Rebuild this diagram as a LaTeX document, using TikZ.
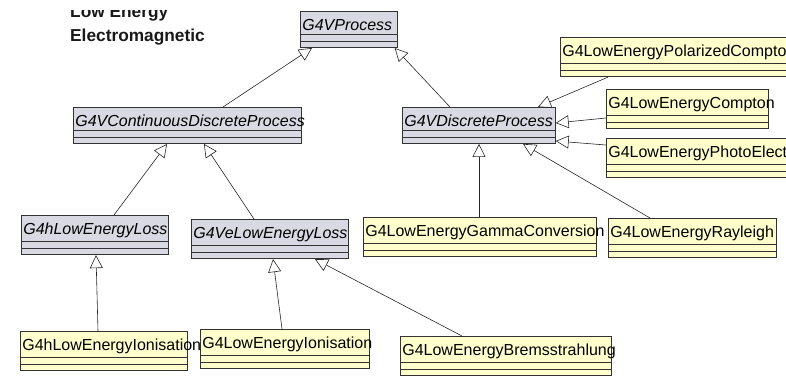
\documentclass[tikz,border=0pt]{standalone}
\usepackage{fontspec}
\setmainfont{Liberation Sans}
\newfontfamily\umlsans{Liberation Sans}[HyphenChar=None]
\usetikzlibrary{arrows.meta, shapes.multipart, calc}
\definecolor{abstrgrey}{HTML}{D9D9E3}
\definecolor{concryellow}{HTML}{FFFFCC}
\newcommand{\umlname}[1]{\rule{0pt}{16pt}#1\nodepart{second}\nodepart{third}}
\tikzset{
  cls/.style={rectangle split, rectangle split parts=3, draw=black!80, line width=0.7pt,
    anchor=north west, inner xsep=2pt, inner ysep=3pt, text width=#1, align=left,
    rectangle split empty part height=4pt, font=\umlsans\fontsize{16}{19}\selectfont},
  abstr/.style={cls=#1, fill=abstrgrey, font=\umlsans\fontsize{16}{19}\selectfont\itshape},
  concr/.style={cls=#1, fill=concryellow},
  inherit/.style={draw=black!85, line width=0.6pt, -{Triangle[open, length=13pt, width=13pt]}}
}
\begin{document}
\begin{tikzpicture}[x=1pt, y=-1pt]
\useasboundingbox (0,0) rectangle (786,376);
\clip (0,0) rectangle (786,376);
\begin{scope}
\clip (0,10) rectangle (290,60);
\node[anchor=north west, align=left, inner sep=0pt, text=black!90, font=\bfseries\fontsize{17.3}{24}\selectfont] (title) at (70,5.6) {Low Energy\\Electromagnetic};
\end{scope}
\node[abstr=93pt] (proc) at (300,11) {\umlname{G4VProcess}};
\node[abstr=224pt] (cdp) at (73,107) {\umlname{G4VContinuousDiscreteProcess}};
\node[abstr=149pt] (dp) at (402,107) {\umlname{G4VDiscreteProcess}};
\node[concr=235pt] (polc) at (560,37) {\umlname{G4LowEnergyPolarizedCompton}};
\node[concr=158pt] (compt) at (606,89) {\umlname{G4LowEnergyCompton}};
\node[concr=189pt] (photo) at (606,138) {\umlname{G4LowEnergyPhotoElectric}};
\node[abstr=143pt] (hloss) at (21,215) {\umlname{G4hLowEnergyLoss}};
\node[abstr=153pt] (veloss) at (191,219) {\umlname{G4VeLowEnergyLoss}};
\node[concr=229pt] (gamma) at (363,217) {\umlname{G4LowEnergyGammaConversion}};
\node[concr=164pt] (rayl) at (608,218) {\umlname{G4LowEnergyRayleigh}};
\node[concr=163pt] (hion) at (20,331) {\umlname{G4hLowEnergyIonisation}};
\node[concr=165pt] (ion) at (200,329) {\umlname{G4LowEnergyIonisation}};
\node[concr=207pt] (brems) at (400,336) {\umlname{G4LowEnergyBremsstrahlung}};
\draw[inherit] ($(cdp.north west)+(150,0)$) -- ($(proc.south west)+(12,0)$);
\draw[inherit] ($(dp.north west)+(48,0)$) -- ($(proc.south east)+(-3,0)$);
\draw[inherit] ($(polc.south west)+(48,0)$) -- ($(dp.north west)+(136,0)$);
\draw[inherit] ($(compt.north west)+(0,29)$) -- ($(dp.north east)+(0,16)$);
\draw[inherit] ($(photo.north west)+(0,7)$) -- ($(dp.north east)+(0,34)$);
\draw[inherit] ($(rayl.north west)+(42,0)$) -- ($(dp.south west)+(121,0)$);
\draw[inherit] ($(gamma.north west)+(116,0)$) -- ($(dp.south west)+(77,0)$);
\draw[inherit] ($(hloss.north west)+(93,0)$) -- ($(cdp.south west)+(94,0)$);
\draw[inherit] ($(veloss.north west)+(63,0)$) -- ($(cdp.south west)+(131,0)$);
\draw[inherit] ($(hion.north west)+(78,0)$) -- ($(hloss.south west)+(75,0)$);
\draw[inherit] ($(ion.north west)+(82,0)$) -- ($(veloss.south west)+(82,0)$);
\draw[inherit] ($(brems.north west)+(62,0)$) -- ($(veloss.south west)+(124,0)$);
\end{tikzpicture}
\end{document}
